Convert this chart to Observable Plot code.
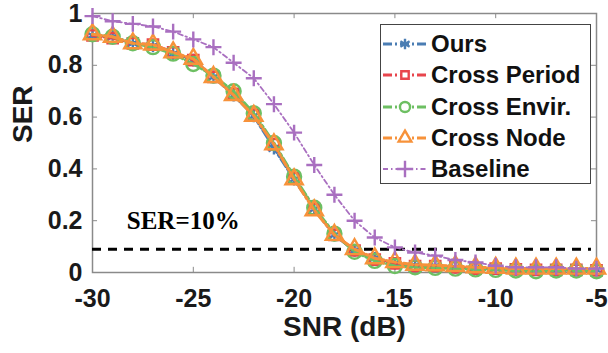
<!DOCTYPE html>
<html>
<head>
<meta charset="utf-8">
<script src="https://cdn.jsdelivr.net/npm/d3@7"></script>
<script src="https://cdn.jsdelivr.net/npm/@observablehq/plot@0.6"></script>
<style>
  html, body { margin: 0; padding: 0; background: #fff; }
  #wrap { position: relative; width: 608px; height: 353px; font-family: "Liberation Sans", Arial, sans-serif; }
  #legend { position: absolute; left: 380px; top: 24px; width: 209px; height: 158px; border: 1.5px solid #444; background: #fff; }
  .row { position: absolute; left: 0; height: 30px; display: flex; align-items: center; }
  .row span { font-weight: bold; font-size: 24px; color: #111; margin-left: 2px; white-space: nowrap; }
</style>
</head>
<body>
<div id="wrap"></div>
<script>
const snr = [-30,-29,-28,-27,-26,-25,-24,-23,-22,-21,-20,-19,-18,-17,-16,-15,-14,-13,-12,-11,-10,-9,-8,-7,-6,-5];
const ours        = [0.915,0.91,0.885,0.875,0.845,0.82,0.755,0.685,0.605,0.48,0.36,0.245,0.145,0.085,0.055,0.035,0.028,0.025,0.02,0.018,0.015,0.012,0.012,0.01,0.01,0.01];
const crossPeriod = [0.915,0.905,0.885,0.88,0.85,0.82,0.755,0.69,0.61,0.495,0.365,0.245,0.145,0.085,0.05,0.035,0.025,0.025,0.02,0.015,0.015,0.012,0.01,0.01,0.01,0.008];
const crossEnvir  = [0.92,0.91,0.885,0.87,0.845,0.805,0.76,0.70,0.615,0.50,0.37,0.25,0.15,0.08,0.045,0.025,0.02,0.018,0.015,0.012,0.01,0.008,0.005,0.008,0.008,0.005];
const crossNode   = [0.92,0.91,0.885,0.88,0.85,0.825,0.755,0.685,0.605,0.495,0.36,0.24,0.145,0.09,0.055,0.04,0.03,0.028,0.025,0.02,0.018,0.015,0.015,0.015,0.015,0.015];
const baseline    = [0.99,0.97,0.96,0.95,0.93,0.90,0.87,0.81,0.75,0.65,0.54,0.415,0.30,0.20,0.135,0.097,0.077,0.065,0.048,0.039,0.026,0.02,0.02,0.02,0.015,0.015];
const seriesNames = ["Ours","Cross Period","Cross Envir.","Cross Node","Baseline"];
const xTicks = [-30,-25,-20,-15,-10,-5];
const yTicks = [0,0.2,0.4,0.6,0.8,1];
const thresholdValue = 0.09;
const thresholdLabel = "SER=10%";
const xLabel = "SNR (dB)";
const yLabel = "SER";

const colors  = ["#4a7db3","#e8454d","#6dbf62","#f7923a","#a96fc0"];
const symbols = ["asterisk","square","circle","triangle","plus"];
const radii   = [6,5.8,7,6.4,5.2];
const dashes  = ["9,3,2,3","9,3,2,3","9,3,2,3","9,3,2,3","5,3,1.5,3"];
const widths  = [3,3,3,3,1.8];
const values  = [ours, crossPeriod, crossEnvir, crossNode, baseline];

const data = [];
values.forEach((arr, i) => arr.forEach((v, j) => data.push({series: seriesNames[i], idx: i, x: snr[j], y: v})));

const tickColor = "#8a8a8a";
const marks = [
  Plot.frame({stroke: tickColor, strokeWidth: 1.5}),
  Plot.ruleX(xTicks.slice(1,-1), {y1: 0, y2: 0.02, stroke: tickColor, strokeWidth: 1}),
  Plot.ruleX(xTicks.slice(1,-1), {y1: 0.98, y2: 1, stroke: tickColor, strokeWidth: 1}),
  Plot.ruleY(yTicks.slice(1,-1), {x1: -30, x2: -29.75, stroke: tickColor, strokeWidth: 1}),
  Plot.ruleY(yTicks.slice(1,-1), {x1: -5.25, x2: -5, stroke: tickColor, strokeWidth: 1}),
  Plot.axisX(xTicks, {tickSize: 0, tickPadding: 17, fontSize: 25, fontWeight: "bold", fill: "#1a1a1a", label: null,
    tickFormat: d => String(d)}),
  Plot.axisY(yTicks, {tickSize: 0, tickPadding: 10, fontSize: 25, fontWeight: "bold", fill: "#1a1a1a", label: null,
    tickFormat: d => (d === 0 || d === 1) ? String(d) : d.toFixed(1)}),
  Plot.text([xLabel], {frameAnchor: "bottom", dy: 63, fontSize: 28, fontWeight: "bold", fill: "#1a1a1a"}),
  Plot.text([yLabel], {frameAnchor: "left", rotate: -90, dx: -69, fontSize: 28, fontWeight: "bold", fill: "#1a1a1a"}),
  Plot.ruleY([thresholdValue], {x1: snr[0], x2: -5.25, stroke: "#000", strokeWidth: 3, strokeDasharray: "9,7"}),
  Plot.text([thresholdLabel], {x: -28.3, y: 0.2, textAnchor: "start", fontFamily: "Liberation Serif, Times New Roman, serif", fontWeight: "bold", fontSize: 25, fill: "#000"})
];
seriesNames.forEach((name, i) => {
  const d = data.filter(p => p.idx === i);
  marks.push(Plot.line(d, {x: "x", y: "y", stroke: colors[i], strokeWidth: widths[i], strokeDasharray: dashes[i]}));
  marks.push(Plot.dot(d, {x: "x", y: "y", symbol: () => symbols[i], r: radii[i], stroke: colors[i], strokeWidth: 2.4, fill: "none"}));
});

const chart = Plot.plot({
  width: 608, height: 353,
  marginLeft: 92, marginRight: 12, marginTop: 13, marginBottom: 81,
  x: {domain: [-30, -5]},
  y: {domain: [0, 1]},
  symbol: {type: "identity"},
  style: {fontFamily: "Liberation Sans, Arial, sans-serif", background: "#fff", overflow: "visible"},
  marks
});
chart.style.position = "absolute";
chart.style.left = "0";
chart.style.top = "0";
const wrap = document.getElementById("wrap");
wrap.appendChild(chart);

// legend
const legend = document.createElement("div");
legend.id = "legend";
const symMap = {asterisk: d3.symbolAsterisk, square: d3.symbolSquare, circle: d3.symbolCircle, triangle: d3.symbolTriangle, plus: d3.symbolPlus};
const legSizes = [80, 55, 80, 70, 90];
seriesNames.forEach((name, i) => {
  const row = document.createElement("div");
  row.className = "row";
  row.style.top = (4 + i * 31.3) + "px";
  const svg = d3.create("svg").attr("width", 48).attr("height", 30);
  svg.append("line").attr("x1", 2).attr("x2", 46).attr("y1", 15).attr("y2", 15)
    .attr("stroke", colors[i]).attr("stroke-width", widths[i]).attr("stroke-dasharray", dashes[i]);
  svg.append("path").attr("transform", "translate(24,15)")
    .attr("d", d3.symbol(symMap[symbols[i]], legSizes[i])())
    .attr("fill", "#fff").attr("stroke", colors[i]).attr("stroke-width", 2.4);
  row.appendChild(svg.node());
  const sp = document.createElement("span");
  sp.textContent = name;
  row.appendChild(sp);
  legend.appendChild(row);
});
wrap.appendChild(legend);
</script>
</body>
</html>
